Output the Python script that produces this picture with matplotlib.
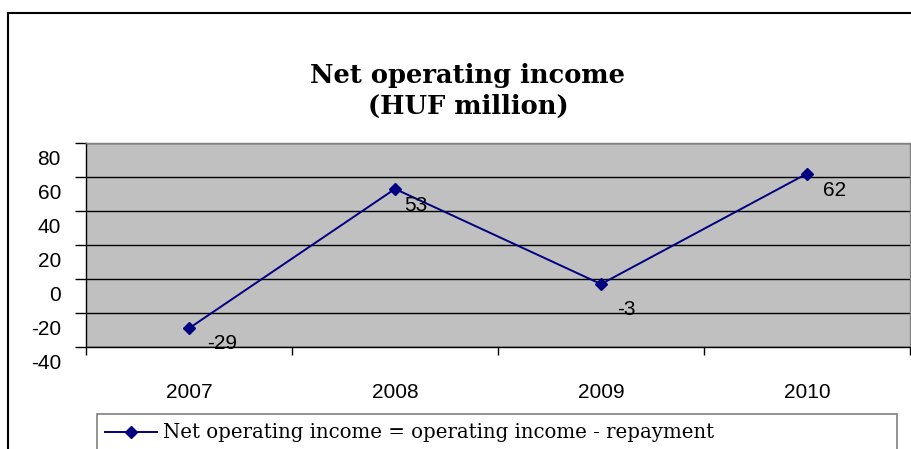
import matplotlib
matplotlib.use("Agg")
import matplotlib.pyplot as plt
import matplotlib.transforms as mtransforms
from matplotlib.lines import Line2D
from matplotlib.patches import Rectangle

years = ["2007", "2008", "2009", "2010"]
values = [-29, 53, -3, 62]
y_ticks = [-40, -20, 0, 20, 40, 60, 80]
title = "Net operating income\n(HUF million)"
series_name = "Net operating income = operating income - repayment"

# pixel offsets of the data labels (style only)
label_offsets = [(18, -15), (9, -17), (16, -25), (16, -17)]

W, H = 912, 449
fig = plt.figure(figsize=(W / 100, H / 100), dpi=100)
fig.patch.set_facecolor("white")

def fx(px):
    return px / W

def fy(py):
    return 1 - py / H

# outer chart border (left and top only visible)
fig.add_artist(Line2D([fx(8.5), fx(8.5)], [fy(12.5), fy(460)], color="black", lw=1.5,
                      transform=fig.transFigure))
fig.add_artist(Line2D([fx(8.5), fx(920)], [fy(12.5), fy(12.5)], color="black", lw=1.5,
                      transform=fig.transFigure))

left, right, top, bottom = 86, 910, 143, 347
ax = fig.add_axes([fx(left), fy(bottom), fx(right - left), (bottom - top) / H])
ax.set_facecolor("#C0C0C0")

x = list(range(len(years)))
ax.plot(x, values, color="#000080", lw=1.4, marker="D", markersize=6.5,
        markerfacecolor="#000080", markeredgecolor="#000080", zorder=3,
        label=series_name)

ax.set_xlim(-0.5, len(years) - 0.5)
ax.set_ylim(y_ticks[0], y_ticks[-1])
ax.set_yticks(y_ticks)
ax.set_yticklabels([str(v) for v in y_ticks], fontsize=15, family="Liberation Sans")
ax.yaxis.grid(True, color="black", lw=1)
ax.set_axisbelow(True)
ax.tick_params(axis="y", direction="out", length=8, width=1, pad=10, colors="black")

# shift y tick labels downward like the reference
offset = mtransforms.ScaledTranslation(0, -14 / 100, fig.dpi_scale_trans)
for lab in ax.get_yticklabels():
    lab.set_transform(lab.get_transform() + offset)

ax.set_xticks(x)
ax.set_xticklabels(years, fontsize=15, family="Liberation Sans")
ax.set_xticks([i - 0.5 for i in range(len(years) + 1)], minor=True)
ax.tick_params(axis="x", which="major", length=0, pad=26)
ax.tick_params(axis="x", which="minor", direction="out", length=6, width=1, color="black")

for s in ["top", "right"]:
    ax.spines[s].set_color("#808080")
    ax.spines[s].set_linewidth(1)
for s in ["left", "bottom"]:
    ax.spines[s].set_color("black")
    ax.spines[s].set_linewidth(1)

# data labels
for xi, v, off in zip(x, values, label_offsets):
    ax.annotate(str(v), (xi, v), xytext=off, textcoords="offset pixels",
                ha="left", va="center", fontsize=15, family="Liberation Sans")

fig.text(fx(468), fy(91), title, ha="center", va="center", fontsize=18.5,
         fontweight="bold", family="DejaVu Serif", linespacing=1.3)

# legend
fig.add_artist(Rectangle((fx(97), fy(460)), fx(897 - 97), (460 - 414) / H,
                         transform=fig.transFigure, facecolor="white",
                         edgecolor="#808080", lw=1.2))
leg = fig.legend(handles=ax.get_lines(), labels=[series_name], loc="center left",
                 bbox_to_anchor=(fx(105), fy(433)), frameon=False,
                 prop={"family": "DejaVu Serif", "size": 14.2},
                 handlelength=2.65, handletextpad=0.3, borderaxespad=0, borderpad=0)

fig.savefig("out.png", dpi=100)
